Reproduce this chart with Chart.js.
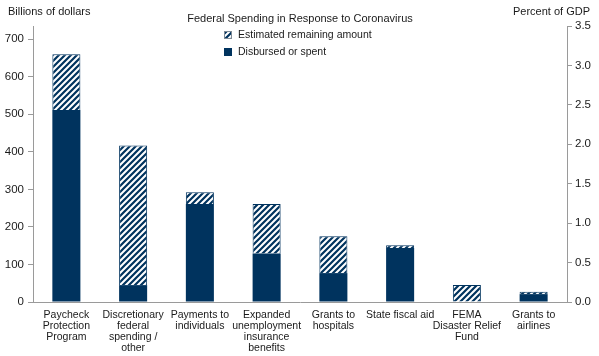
<!DOCTYPE html>
<html><head><meta charset="utf-8">
<script src="https://cdn.jsdelivr.net/npm/chart.js@4"></script>
<style>html,body{margin:0;padding:0;background:#fff}#wrap{width:599px;height:356px}</style>
</head><body><div id="wrap"><canvas id="c" width="599" height="356"></canvas></div>
<script>
// ---- data ----
const categories = [
  ['Paycheck','Protection','Program'],
  ['Discretionary','federal','spending /','other'],
  ['Payments to','individuals'],
  ['Expanded','unemployment','insurance','benefits'],
  ['Grants to','hospitals'],
  ['State fiscal aid'],
  ['FEMA','Disaster Relief','Fund'],
  ['Grants to','airlines']
];
const disbursed = [511, 45, 261, 129, 77, 144, 0, 21];
const remaining = [149, 372, 31, 132, 98, 7, 45, 6];
const leftTicks = [0, 100, 200, 300, 400, 500, 600, 700];
const rightTicks = [0, 0.5, 1.0, 1.5, 2.0, 2.5, 3.0, 3.5];
const leftMax = 735;
const rightMax = 3.5;
const seriesNames = ['Disbursed or spent', 'Estimated remaining amount'];
const chartTitle = 'Federal Spending in Response to Coronavirus';
const leftTitle = 'Billions of dollars';
const rightTitle = 'Percent of GDP';

// ---- styles ----
const NAVY = '#00335e';
const AXIS = '#9a9a9a';
const TXT = '#1a1a1a';
const FONT = "'Liberation Sans', Arial, sans-serif";

const canvas = document.getElementById('c');
const ctx = canvas.getContext('2d');

function makeHatch(){
  const s = 6;
  const c = document.createElement('canvas');
  c.width = s; c.height = s;
  const g = c.getContext('2d');
  g.fillStyle = '#fff'; g.fillRect(0,0,s,s);
  g.strokeStyle = NAVY; g.lineWidth = 2.2;
  g.beginPath();
  [0, s, 2*s].forEach(k => { g.moveTo(-1, k+1); g.lineTo(k+1, -1); });
  g.stroke();
  return ctx.createPattern(c, 'repeat');
}
const hatch = makeHatch();

const overlay = {
  id: 'overlay',
  afterDraw(chart){
    const g = chart.ctx;
    const a = chart.chartArea;
    g.save();
    g.fillStyle = TXT;
    g.textBaseline = 'middle';
    g.font = '11px ' + FONT;
    g.textAlign = 'left';
    g.fillText(leftTitle, 8, 12);
    g.textAlign = 'right';
    g.fillText(rightTitle, 590, 12);
    g.textAlign = 'center';
    g.font = '11px ' + FONT;
    g.fillText(chartTitle, (a.left + a.right)/2, 19);
    // legend
    const items = [
      {label: chart.data.datasets[1].label, fill: hatch, stroke: '#7f8a95'},
      {label: chart.data.datasets[0].label, fill: NAVY, stroke: NAVY}
    ];
    g.font = '10.5px ' + FONT;
    g.textAlign = 'left';
    items.forEach((it, i) => {
      const y = 35 + i*17;
      g.fillStyle = it.fill;
      g.fillRect(224, y-4, 8, 8);
      g.strokeStyle = it.stroke; g.lineWidth = 1;
      g.strokeRect(224.5, y-3.5, 7, 7);
      g.fillStyle = TXT;
      g.fillText(it.label, 238, y);
    });
    g.restore();
  }
};

new Chart(canvas, {
  type: 'bar',
  data: {
    labels: categories,
    datasets: [
      {label: seriesNames[0], data: disbursed, backgroundColor: NAVY, borderWidth: 0, yAxisID: 'y',
       categoryPercentage: 1, barPercentage: 0.42},
      {label: seriesNames[1], data: remaining, backgroundColor: hatch, borderColor: NAVY, borderWidth: 1, yAxisID: 'y',
       categoryPercentage: 1, barPercentage: 0.42}
    ]
  },
  options: {
    responsive: false,
    animation: false,
    devicePixelRatio: 1,
    layout: {padding: {top: 26, left: 0, right: 0, bottom: 0}},
    plugins: {legend: {display: false}, tooltip: {enabled: false}, title: {display: false}},
    scales: {
      x: {
        stacked: true,
        grid: {display: false, drawTicks: false},
        border: {display: true, color: AXIS, width: 1},
        ticks: {color: TXT, font: {family: FONT, size: 10.5, lineHeight: 1.03}, padding: 8, maxRotation: 0, autoSkip: false},
        afterFit(s){ s.height = 54; }
      },
      y: {
        position: 'left', stacked: true, min: 0, max: leftMax,
        grid: {drawOnChartArea: false, drawTicks: true, tickLength: 5, color: AXIS, tickColor: AXIS},
        border: {display: true, color: AXIS, width: 1},
        ticks: {color: TXT, font: {family: FONT, size: 11.5}, padding: 4},
        afterBuildTicks(s){ s.ticks = leftTicks.map(v => ({value: v})); },
        afterFit(s){ s.width = 33; }
      },
      y2: {
        position: 'right', min: 0, max: rightMax,
        grid: {drawOnChartArea: false, drawTicks: true, tickLength: 5, color: AXIS, tickColor: AXIS},
        border: {display: true, color: AXIS, width: 1},
        ticks: {color: TXT, font: {family: FONT, size: 11.5}, padding: 3, callback: v => Number(v).toFixed(1)},
        afterBuildTicks(s){ s.ticks = rightTicks.map(v => ({value: v})); },
        afterFit(s){ s.width = 32; }
      }
    }
  },
  plugins: [overlay]
});
</script>
</body></html>
